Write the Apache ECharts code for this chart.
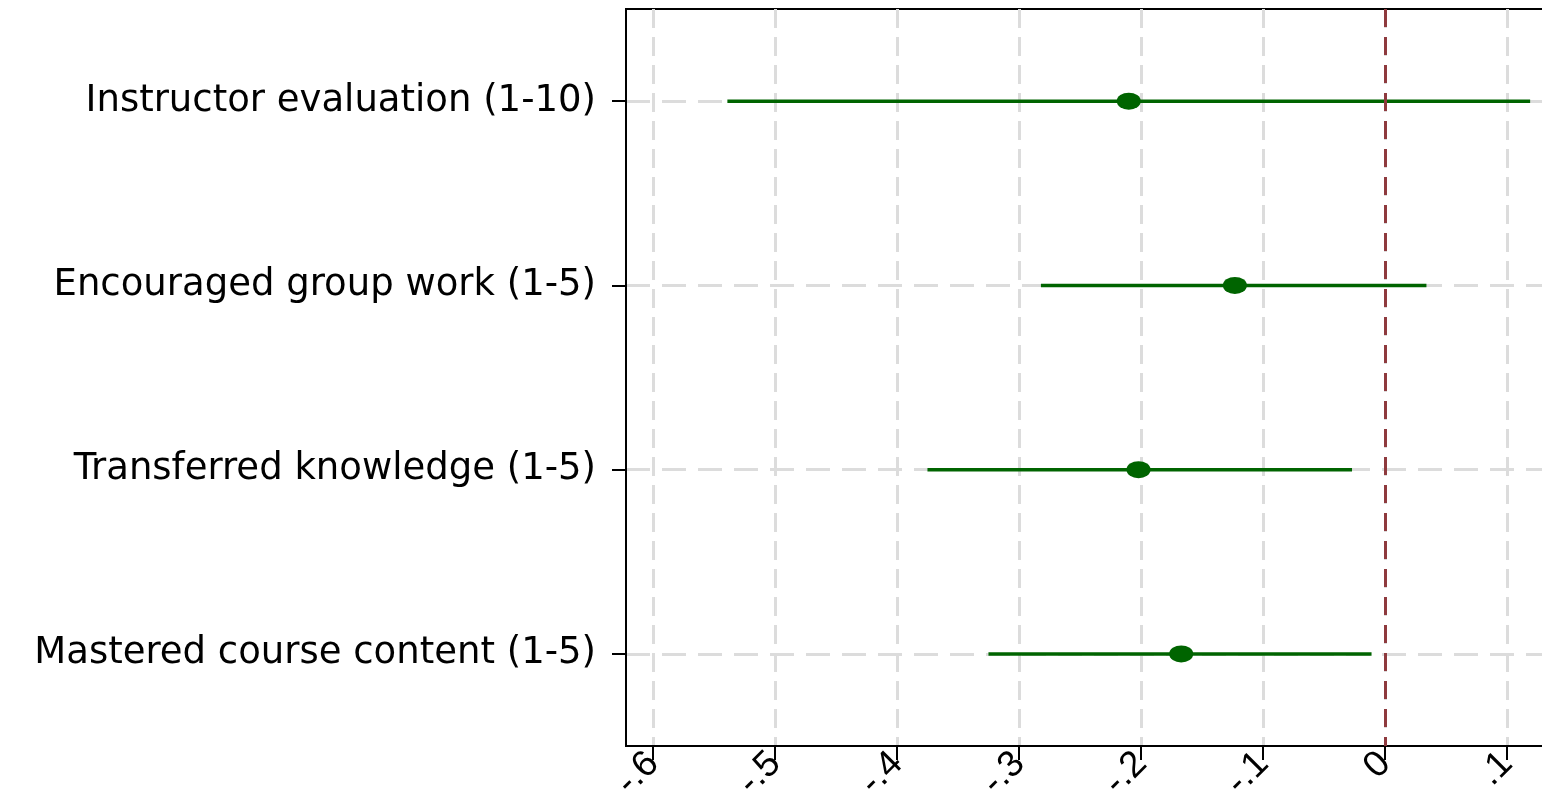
<!DOCTYPE html>
<html>
<head>
<meta charset="utf-8">
<script src="https://cdn.jsdelivr.net/npm/echarts@6/dist/echarts.min.js"></script>
<style>
html,body{margin:0;padding:0;background:#fff;}
#chart{width:1542px;height:794px;}
</style>
</head>
<body>
<div id="chart"></div>
<script>
const categories = [
  'Instructor evaluation (1-10)',
  'Encouraged group work (1-5)',
  'Transferred knowledge (1-5)',
  'Mastered course content (1-5)'
];
const estimates = [-0.210, -0.123, -0.202, -0.167];
const lowerCI = [-0.539, -0.282, -0.375, -0.325];
const upperCI = [0.119, 0.034, -0.027, -0.011];
const xTickValues = [-0.6, -0.5, -0.4, -0.3, -0.2, -0.1, 0, 0.1];
const xTickLabels = ['-.6', '-.5', '-.4', '-.3', '-.2', '-.1', '0', '.1'];
const rowPositions = [1, 2, 3, 4];
const referenceValue = 0;

const pointData = estimates.map((v, i) => [v, rowPositions[i]]);
const ciData = estimates.map((v, i) => [lowerCI[i], upperCI[i], rowPositions[i]]);

const chart = echarts.init(document.getElementById('chart'), null, {renderer: 'canvas'});
const green = '#006400';
const gridGray = '#dcdcdc';

chart.setOption({
  animation: false,
  backgroundColor: '#ffffff',
  grid: {
    left: 626, top: 9, right: -4, bottom: 48,
    show: true, borderColor: '#000', borderWidth: 2,
    containLabel: false, outerBoundsMode: 'none'
  },
  xAxis: {
    type: 'value',
    min: -0.6221,
    max: 0.1320,
    axisLine: {show: true, onZero: false, lineStyle: {color: '#000', width: 2}},
    axisTick: {show: true, length: 14, lineStyle: {color: '#000', width: 2}, customValues: xTickValues},
    axisLabel: {
      show: true,
      customValues: xTickValues,
      rotate: 45,
      margin: 12,
      fontSize: 37,
      fontFamily: 'Liberation Sans, Arial, sans-serif',
      color: '#000',
      hideOverlap: false,
      formatter: function (v) {
        const i = xTickValues.findIndex(t => Math.abs(t - v) < 1e-9);
        return i >= 0 ? xTickLabels[i] : '';
      }
    },
    splitLine: {show: true, lineStyle: {color: gridGray, width: 3, type: [19, 9]}}
  },
  yAxis: {
    type: 'value',
    inverse: true,
    min: 0.5,
    max: 4.5,
    axisLine: {show: true, onZero: false, lineStyle: {color: '#000', width: 2}},
    axisTick: {show: true, length: 14, lineStyle: {color: '#000', width: 2}, customValues: rowPositions},
    axisLabel: {
      show: true,
      customValues: rowPositions,
      margin: 30,
      fontSize: 37,
      fontFamily: 'DejaVu Sans, sans-serif',
      color: '#000',
      formatter: function (v) {
        const i = rowPositions.indexOf(Math.round(v));
        return i >= 0 ? categories[i] : '';
      }
    },
    splitLine: {show: true, lineStyle: {color: gridGray, width: 3, type: [24, 12]}}
  },
  series: [
    {
      type: 'custom',
      name: 'CI',
      data: ciData,
      z: 3,
      renderItem: function (params, api) {
        const y = api.value(2);
        const p1 = api.coord([api.value(0), y]);
        const p2 = api.coord([api.value(1), y]);
        return {
          type: 'line',
          shape: {x1: p1[0], y1: p1[1], x2: p2[0], y2: p2[1]},
          style: {stroke: green, lineWidth: 3.5}
        };
      },
      encode: {x: [0, 1], y: 2}
    },
    {
      type: 'scatter',
      name: 'Estimate',
      data: pointData,
      z: 5,
      symbol: 'path://M0,1A1,1,0,1,1,2,1A1,1,0,1,1,0,1Z',
      symbolSize: [24, 17],
      itemStyle: {color: green, opacity: 1},
      markLine: {
        silent: true,
        symbol: ['none', 'none'],
        label: {show: false},
        lineStyle: {color: '#8e3a3e', width: 3, type: [18, 10]},
        data: [{xAxis: referenceValue}],
        z: 4
      }
    }
  ]
});
</script>
</body>
</html>
